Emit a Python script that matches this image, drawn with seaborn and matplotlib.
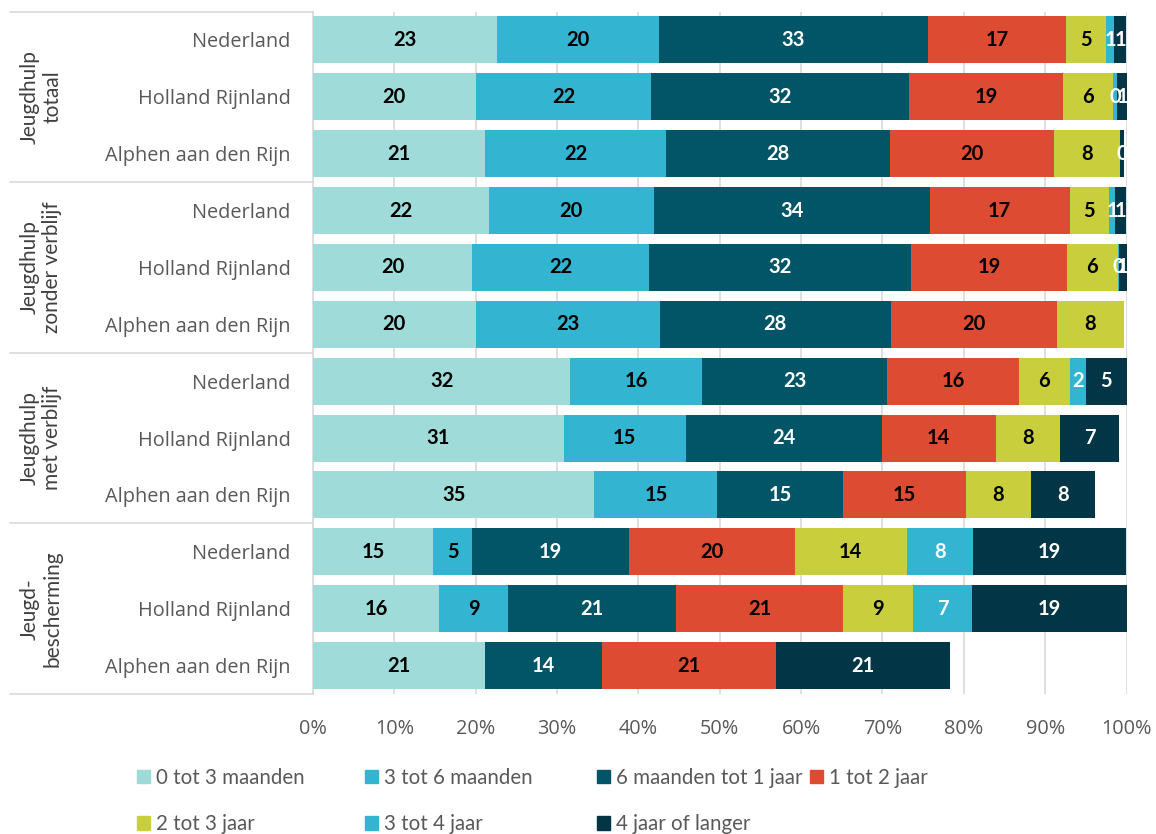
import numpy as np
import pandas as pd
import seaborn as sns
import matplotlib
matplotlib.use("Agg")
import matplotlib.pyplot as plt
from matplotlib.patches import Patch
from matplotlib.lines import Line2D
import matplotlib.transforms as mtransforms

# ---------------- data ----------------
groups = ["Jeugdhulp\ntotaal", "Jeugdhulp\nzonder verblijf", "Jeugdhulp\nmet verblijf", "Jeugd-\nbescherming"]
regions = ["Nederland", "Holland Rijnland", "Alphen aan den Rijn"]
series = ["0 tot 3 maanden", "3 tot 6 maanden", "6 maanden tot 1 jaar", "1 tot 2 jaar",
          "2 tot 3 jaar", "3 tot 4 jaar", "4 jaar of langer"]

# rows: (group, region) in display order, values in % per series
m0_3 = [22.6, 20.0, 21.2, 21.6, 19.6, 20.0, 31.6, 30.8, 34.6, 14.8, 15.5, 21.2]
m3_6 = [19.9, 21.6, 22.2, 20.3, 21.7, 22.6, 16.2, 15.0, 15.1, 4.7, 8.5, 0.0]
m6_12 = [33.1, 31.7, 27.5, 33.9, 32.2, 28.4, 22.8, 24.1, 15.4, 19.3, 20.6, 14.3]
j1_2 = [17.0, 18.9, 20.2, 17.2, 19.2, 20.4, 16.2, 14.0, 15.2, 20.4, 20.6, 21.4]
j2_3 = [4.9, 6.2, 8.1, 4.9, 6.2, 8.3, 6.2, 7.9, 7.9, 13.8, 8.6, 0.0]
j3_4 = [1.0, 0.45, 0.0, 0.65, 0.2, 0.0, 2.0, 0.0, 0.0, 8.1, 7.2, 0.0]
j4p = [1.4, 1.2, 0.49, 1.4, 0.9, 0.0, 5.0, 7.3, 7.9, 18.8, 19.0, 21.4]

values = [m0_3, m3_6, m6_12, j1_2, j2_3, j3_4, j4p]
colors = ["#9FDBD8", "#33B5D1", "#025566", "#DE4B33", "#C9CE3D", "#33B5D1", "#023545"]
label_colors = ["black", "black", "white", "black", "black", "white", "white"]
x_ticks = [0, 10, 20, 30, 40, 50, 60, 70, 80, 90, 100]

# ---------------- build frame ----------------
row_keys = [f"{g}|{r}" for g in groups for r in regions]
row_labels = [r for g in groups for r in regions]
vals = np.array(values)              # (series, rows)
cum = np.cumsum(vals, axis=0)        # cumulative ends

frames = []
for si, s in enumerate(series):
    frames.append(pd.DataFrame({"row": row_keys, "series": s, "end": cum[si], "val": vals[si]}))
df = pd.concat(frames, ignore_index=True)

# ---------------- plot ----------------
sns.set_theme(style="white")
plt.rcParams["font.family"] = ["Lato", "DejaVu Sans"]

fig = plt.figure(figsize=(11.56, 8.34), dpi=100)
ax = fig.add_axes([313 / 1156, 1 - 694 / 834, (1126.5 - 313) / 1156, (694 - 11.5) / 834])

bar_h = 0.825
# draw cumulative bars from the last series to the first so that each stack shows its segment
for si in range(len(series) - 1, -1, -1):
    sub = df[df["series"] == series[si]]
    sns.barplot(data=sub, x="end", y="row", order=row_keys, orient="y",
                color=colors[si], width=bar_h, ax=ax, errorbar=None,
                saturation=1, linewidth=0, edgecolor=colors[si], zorder=3)

# data labels
for si in range(len(series)):
    for ri in range(len(row_keys)):
        v = vals[si, ri]
        if v <= 0:
            continue
        center = cum[si, ri] - v / 2
        ax.text(center, ri, f"{int(v + 0.5)}", ha="center", va="center",
                fontsize=14.5, fontweight="bold", color=label_colors[si],
                family=["Lato", "DejaVu Sans"], zorder=5)

ax.set_xlim(0, 100)
ax.set_ylim(len(row_keys) - 0.5, -0.5)
ax.set_xticks(x_ticks)
ax.set_xticklabels([f"{t}%" for t in x_ticks])
ax.set_yticks(range(len(row_keys)))
ax.set_yticklabels(row_labels)
ax.set_xlabel("")
ax.set_ylabel("")

for lab in ax.get_xticklabels() + ax.get_yticklabels():
    lab.set_family(["Open Sans", "DejaVu Sans"])
    lab.set_color("#595959")
    lab.set_fontsize(14.3)
ax.tick_params(axis="x", length=0, pad=18)
ax.tick_params(axis="y", length=0, pad=16)

ax.grid(axis="x", color="#D9D9D9", linewidth=1.2, zorder=0)
ax.grid(axis="y", visible=False)
for side in ["top", "right", "bottom"]:
    ax.spines[side].set_visible(False)
ax.spines["left"].set_color("#D9D9D9")
ax.spines["left"].set_linewidth(1.2)

# group separators and labels
blend = mtransforms.blended_transform_factory(fig.transFigure, ax.transData)
x0 = 10 / 1156
x1 = 313 / 1156
for b in [-0.5, 2.5, 5.5, 8.5, 11.5]:
    fig.add_artist(Line2D([x0, x1], [b, b], transform=blend, color="#D9D9D9", linewidth=1.2))
for gi, g in enumerate(groups):
    fig.text(41 / 1156, gi * 3 + 1, g, transform=blend, rotation=90, ha="center", va="center",
             fontsize=15, color="#404040", linespacing=1.15, family=["Lato", "DejaVu Sans"])

# legend: four columns placed like the reference (row-major reading order)
handles = [Patch(facecolor=c, edgecolor=c) for c in colors]
columns = [[0, 4], [1, 5], [2, 6], [3]]
col_x = [137, 365, 597, 810]
for cx, idxs in zip(col_x, columns):
    leg = fig.legend([handles[i] for i in idxs], [series[i] for i in idxs],
                     loc="upper left", bbox_to_anchor=(cx / 1156, 1 - 768 / 834),
                     ncol=1, frameon=False, fontsize=14.8, handlelength=0.62, handleheight=0.62,
                     handletextpad=0.3, labelspacing=1.28, borderpad=0, borderaxespad=0)
    for t in leg.get_texts():
        t.set_color("#595959")
        t.set_family(["Lato", "DejaVu Sans"])

fig.savefig("out.png", dpi=100)
